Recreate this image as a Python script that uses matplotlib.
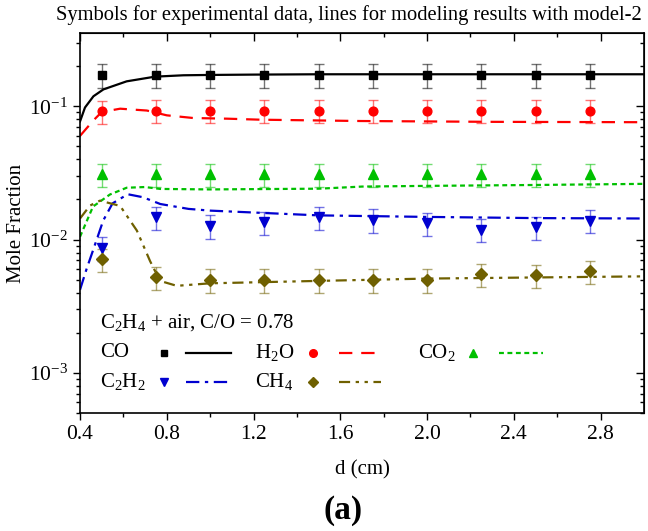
import matplotlib
matplotlib.use("Agg")
import matplotlib.pyplot as plt
from matplotlib.lines import Line2D
import numpy as np

plt.rcParams['font.family'] = ['Liberation Serif', 'DejaVu Serif']
plt.rcParams['mathtext.fontset'] = 'custom'
plt.rcParams['mathtext.rm'] = 'Liberation Serif'
plt.rcParams['mathtext.it'] = 'Liberation Serif:italic'
plt.rcParams['mathtext.bf'] = 'Liberation Serif:bold'

# ---------------- data ----------------
x_exp = [0.5, 0.75, 1.0, 1.25, 1.5, 1.75, 2.0, 2.25, 2.5, 2.75]
co_exp = [0.172, 0.172, 0.172, 0.172, 0.172, 0.172, 0.172, 0.172, 0.172, 0.172]
h2o_exp = [0.092, 0.093, 0.093, 0.093, 0.093, 0.093, 0.093, 0.093, 0.093, 0.093]
co2_exp = [0.031, 0.031, 0.031, 0.031, 0.031, 0.031, 0.031, 0.031, 0.031, 0.031]
c2h2_exp = [0.0087, 0.0147, 0.0127, 0.0135, 0.0147, 0.0141, 0.0133, 0.0119, 0.0124, 0.0139]
ch4_exp = [0.0071, 0.0052, 0.0050, 0.0050, 0.0050, 0.0050, 0.0050, 0.0055, 0.0054, 0.0058]
err_frac = 0.2

co_mx = [0.4, 0.423, 0.462, 0.508, 0.615, 0.746, 0.877, 1.0, 1.2, 1.5, 2.0, 3.0]
co_my = [0.077, 0.098, 0.119, 0.134, 0.154, 0.167, 0.171, 0.172, 0.173, 0.174, 0.174, 0.174]

h2o_mx = [0.4, 0.462, 0.5, 0.585, 0.708, 0.8, 0.923, 1.077, 1.23, 1.69, 2.3, 3.0]
h2o_my = [0.060, 0.0785, 0.0906, 0.096, 0.093, 0.0856, 0.0817, 0.0808, 0.0794, 0.0776, 0.0765, 0.076]

co2_mx = [0.4, 0.46, 0.538, 0.615, 0.7, 0.77, 1.0, 1.5, 1.7, 2.0, 2.5, 3.0]
co2_my = [0.0105, 0.0177, 0.0218, 0.0245, 0.0248, 0.0240, 0.0238, 0.0241, 0.0250, 0.0253, 0.0257, 0.0262]

c2h2_mx = [0.4, 0.43, 0.46, 0.507, 0.55, 0.62, 0.69, 0.77, 0.9, 1.0, 1.5, 2.0, 2.5, 3.0]
c2h2_my = [0.0042, 0.0060, 0.0083, 0.0139, 0.0187, 0.0219, 0.0208, 0.0185, 0.0170, 0.0165, 0.0152, 0.0148, 0.0145, 0.0144]

ch4_mx = [0.4, 0.446, 0.492, 0.585, 0.662, 0.723, 0.769, 0.846, 1.0, 1.5, 2.0, 2.5, 3.0]
ch4_my = [0.0144, 0.018, 0.0196, 0.0179, 0.0117, 0.0069, 0.0049, 0.0045, 0.0047, 0.0049, 0.0051, 0.0052, 0.0053]

c_co = 'black'
c_h2o = '#ff0000'
c_co2 = '#00c000'
c_c2h2 = '#0000d0'
c_ch4 = '#6f6000'

ls_h2o = (0, (6, 4))
ls_co2 = (0, (2.2, 1.6))
ls_c2h2 = (0, (6, 2.5, 1.5, 2.5))
ls_ch4 = (0, (5, 2.5, 1.5, 2.5, 1.5, 2.5))

# ---------------- figure ----------------
fig = plt.figure(figsize=(6.48, 5.31), dpi=100)
ax = fig.add_axes([80/648, 1-413/531, 564/648, 380/531])

species = [
    (co_exp, co_mx, co_my, c_co, 's', '-', 5.8),
    (h2o_exp, h2o_mx, h2o_my, c_h2o, 'o', ls_h2o, 6.3),
    (co2_exp, co2_mx, co2_my, c_co2, '^', ls_co2, 7),
    (c2h2_exp, c2h2_mx, c2h2_my, c_c2h2, 'v', ls_c2h2, 7),
    (ch4_exp, ch4_mx, ch4_my, c_ch4, 'D', ls_ch4, 5.8),
]

for yexp, mx, my, col, mk, ls, ms in species:
    ax.plot(mx, my, color=col, ls=ls, lw=1.6, zorder=2)
    yerr = [err_frac * v for v in yexp]
    ax.errorbar(x_exp, yexp, yerr=yerr, fmt='none', ecolor=col, alpha=0.55,
                elinewidth=1.0, capsize=3.5, capthick=1.0, zorder=3)
    ax.plot(x_exp, yexp, ls='none', marker=mk, color=col, ms=ms, zorder=4)

ax.set_yscale('log')
ax.set_xlim(0.4, 3.0)
ax.set_ylim(5.0e-4, 0.355)
ax.set_xticks([0.4, 0.8, 1.2, 1.6, 2.0, 2.4, 2.8])
ax.set_xticks(np.arange(0.6, 3.0, 0.4), minor=True)
ax.set_xticklabels(['0.4', '0.8', '1.2', '1.6', '2.0', '2.4', '2.8'])
ax.set_yticks([1e-3, 1e-2, 1e-1])
ax.set_yticklabels([r'$10^{-3}$', r'$10^{-2}$', r'$10^{-1}$'])

ax.tick_params(axis='both', which='major', direction='out', length=5, width=1.0,
               labelsize=15.5, top=False, right=False)
ax.tick_params(axis='both', which='minor', direction='out', length=3, width=1.0)
# mirrored ticks inward on top/right
axt = ax.secondary_xaxis('top')
axt.set_xticks([0.4, 0.8, 1.2, 1.6, 2.0, 2.4, 2.8])
axt.set_xticks(np.arange(0.6, 3.0, 0.4), minor=True)
axt.tick_params(which='major', direction='in', length=6, width=1.0, labeltop=False)
axt.tick_params(which='minor', direction='in', length=3, width=1.0)
axr = ax.secondary_yaxis('right')
axr.set_yscale('log')
axr.tick_params(which='major', direction='in', length=6, width=1.0, labelright=False)
axr.tick_params(which='minor', direction='in', length=3, width=1.0)
axr.set_yticks([1e-3, 1e-2, 1e-1])
axr.set_yticklabels([])

for sp in ax.spines.values():
    sp.set_linewidth(1.2)

ax.set_xlabel('d (cm)', fontsize=15, labelpad=12)
ax.set_ylabel('Mole Fraction', fontsize=15, labelpad=2)

fig.text(349/648, 1-15/531, 'Symbols for experimental data, lines for modeling results with model-2',
         ha='center', va='center', fontsize=14.8)
fig.text(343/648, 1-511/531, '(a)', ha='center', va='center', fontsize=24, fontweight='bold')

# ---------------- manual legend ----------------
tr = ax.transAxes
ax.text(0.0355, 0.237, r'C$_2$H$_4$ + air, C/O = 0.78', transform=tr, fontsize=15, va='center')
leg_items = [
    (r'CO', c_co, 's', '-', 0.0355, 0.149, 0.188, 0.268, 0.158, 5),
    (r'H$_2$O', c_h2o, 'o', ls_h2o, 0.310, 0.413, 0.459, 0.537, 0.158, 5.5),
    (r'CO$_2$', c_co2, '^', ls_co2, 0.599, 0.697, 0.743, 0.821, 0.158, 6),
    (r'C$_2$H$_2$', c_c2h2, 'v', ls_c2h2, 0.0355, 0.149, 0.188, 0.268, 0.0816, 6),
    (r'CH$_4$', c_ch4, 'D', ls_ch4, 0.310, 0.413, 0.459, 0.533, 0.0816, 5),
]
for lab, col, mk, ls, tx, mxp, l0, l1, yy, ms in leg_items:
    ax.text(tx, yy, lab, transform=tr, fontsize=15, va='center')
    ax.add_line(Line2D([mxp], [yy], transform=tr, marker=mk, color=col, ms=ms, ls='none'))
    ax.add_line(Line2D([l0, l1], [yy, yy], transform=tr, color=col, ls=ls, lw=1.6))

fig.savefig('out.png', dpi=100)
